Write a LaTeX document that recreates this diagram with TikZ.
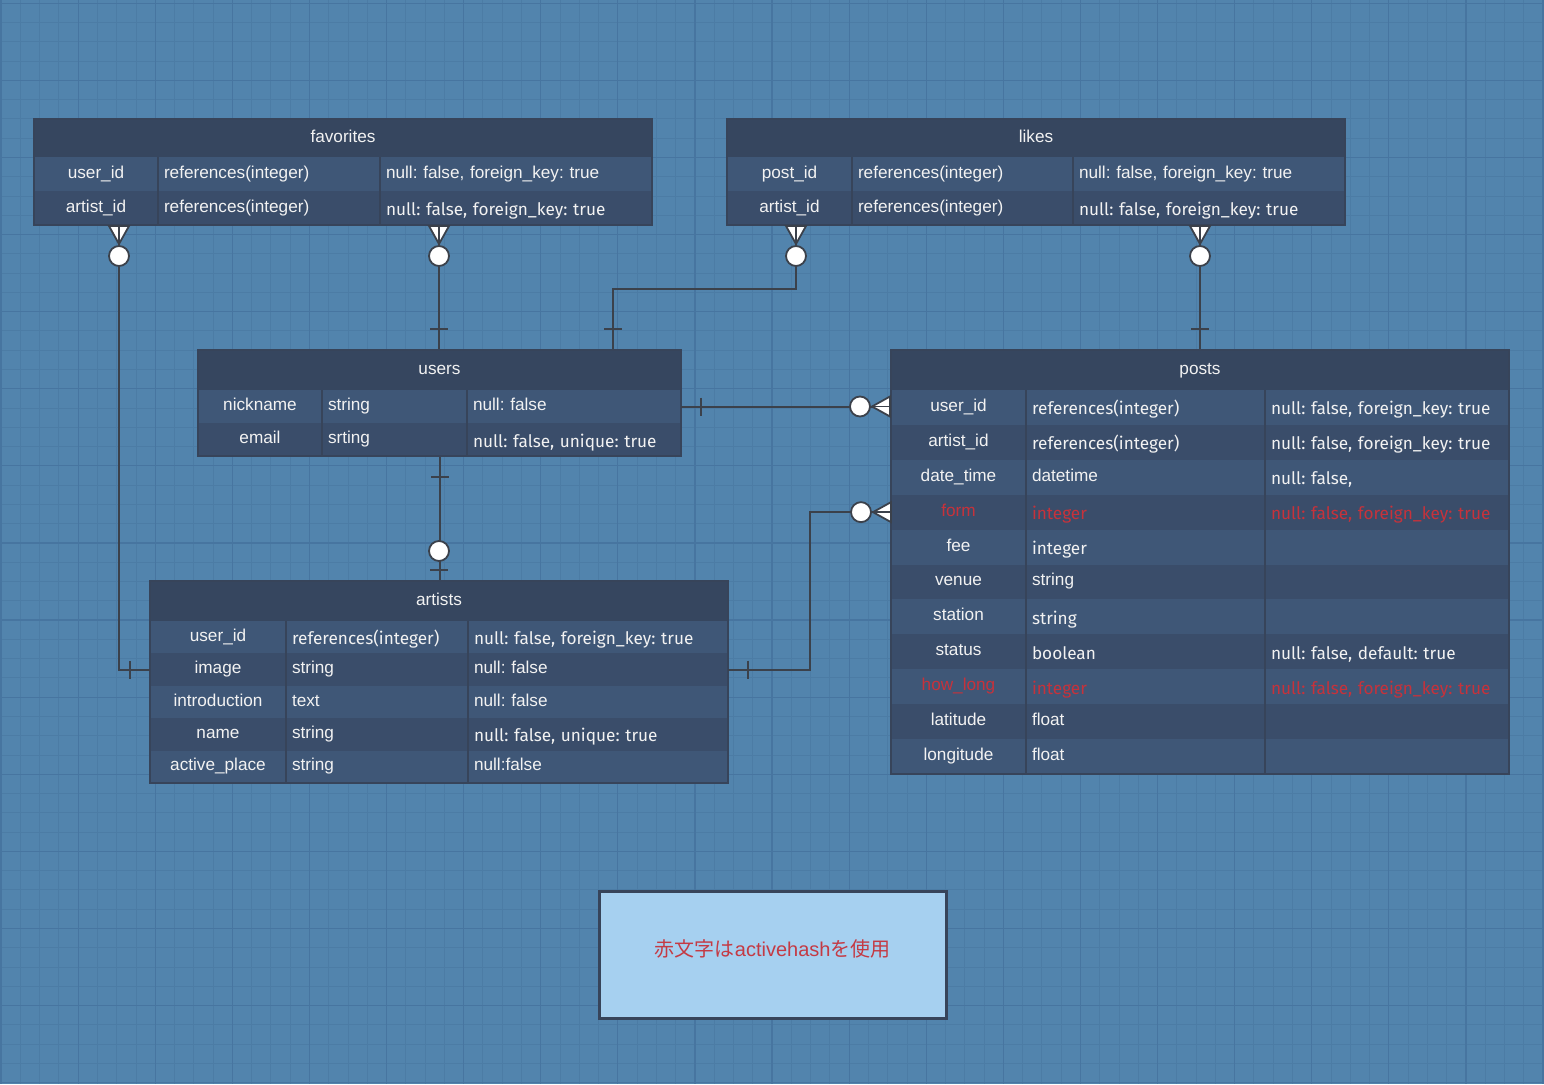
\documentclass[tikz,border=0pt]{standalone}
\usepackage{fontspec}
\setmainfont{Liberation Sans}
\newfontfamily\firafont{Fira Sans}
\newfontfamily\cjk{Noto Sans CJK JP}
\usetikzlibrary{fit}
\definecolor{bg}{HTML}{5284AD}
\definecolor{gridminor}{HTML}{4C7CA5}
\definecolor{gridmajor}{HTML}{4775A0}
\definecolor{headcol}{HTML}{36465F}
\definecolor{row1}{HTML}{3F5777}
\definecolor{row0}{HTML}{3A4D6A}
\definecolor{frm}{HTML}{37445A}
\definecolor{txt}{HTML}{F2F2F2}
\definecolor{redtxt}{HTML}{C6323B}
\definecolor{linecol}{HTML}{3B414B}
\definecolor{notefill}{HTML}{A6D0F0}
\definecolor{notetext}{HTML}{C43A44}

\frenchspacing
\newcommand{\fira}[1]{\raisebox{-3.5pt}{\fontsize{17.2}{20}\selectfont\firafont #1}}

\tikzset{
  minorline/.style={draw=gridminor, line width=0.8},
  majorline/.style={draw=gridmajor, line width=1.2},
  tblhead/.style={fill=headcol, text=txt, anchor=north west, inner sep=0, outer sep=0,
    text height=12, text depth=4},
  cellc/.style={text=txt, anchor=north west, inner sep=0, outer sep=0, minimum width=#1,
    text height=12, text depth=4},
  celll/.style={cellc=#1, text width={#1-12}, align=left, inner xsep=6},
  coldiv/.style={draw=frm, line width=2},
  frame/.style={draw=frm, line width=2, inner sep=0},
  rel/.style={draw=linecol, line width=2},
  markline/.style={draw=linecol, line width=1.8},
  zmany/.pic={
    \draw[markline, fill=white] (0,-10) -- (18,0) -- (0,10) -- cycle;
    \draw[markline] (0,0) -- (18,0);
    \draw[markline, fill=white] (30,0) circle (10);
  },
  onebar/.pic={\draw[markline] (20,-9) -- (20,9);},
  zone/.pic={
    \draw[markline] (10,-9) -- (10,9);
    \draw[markline, fill=white] (29,0) circle (10);
  },
  notebox/.style={fill=notefill, draw=frm, line width=2.5, text=notetext, anchor=north west,
    font=\fontsize{20}{24}\selectfont, text height=14, text depth=10}
}

\begin{document}
\begin{tikzpicture}[x=1pt, y=-1pt, font=\fontsize{17.2}{20}\selectfont]
  \useasboundingbox (0,0) rectangle (1544,1084);
  \fill[bg] (0,0) rectangle (1544,1084);
  % grid
  \foreach \i in {0,...,80} \draw[minorline] ({1+19.275*\i},0) -- ++(0,1084);
  \foreach \j in {0,...,56} \draw[minorline] (0,{3.2+19.275*\j}) -- ++(1544,0);
  \foreach \i in {0,...,20} \draw[majorline] ({1+77.1*\i},0) -- ++(0,1084);
  \foreach \j in {0,...,14} \draw[majorline] (0,{3.2+77.1*\j}) -- ++(1544,0);

  % favorites
  \node[tblhead, minimum width=618, minimum height=38] (fav-h) at (34,119) {favorites};
  \foreach \a/\b/\c [count=\i] in {user\_id/references(integer)/{null: false, foreign\_key: true},
      artist\_id/references(integer)/\fira{null: false, foreign\_key: true}} {
    \pgfmathtruncatemacro\odd{mod(\i,2)}
    \node[cellc=124, fill=row\odd, minimum height=34] (fav-\i-a) at (34,{157+34*(\i-1)}) {\a};
    \node[celll=222, fill=row\odd, minimum height=34] (fav-\i-b) at (fav-\i-a.north east) {\b};
    \node[celll=272, fill=row\odd, minimum height=34] (fav-\i-c) at (fav-\i-b.north east) {\c};
  }
  \draw[coldiv] (fav-1-b.north west) -- (fav-2-b.south west)
                (fav-1-c.north west) -- (fav-2-c.south west);
  \node[frame, fit=(fav-h)(fav-2-c)] (fav) {};

  % likes
  \node[tblhead, minimum width=618, minimum height=38] (likes-h) at (727,119) {likes};
  \foreach \a/\b/\c [count=\i] in {post\_id/references(integer)/{null: false, foreign\_key: true},
      artist\_id/references(integer)/\fira{null: false, foreign\_key: true}} {
    \pgfmathtruncatemacro\odd{mod(\i,2)}
    \node[cellc=125, fill=row\odd, minimum height=34] (likes-\i-a) at (727,{157+34*(\i-1)}) {\a};
    \node[celll=221, fill=row\odd, minimum height=34] (likes-\i-b) at (likes-\i-a.north east) {\b};
    \node[celll=272, fill=row\odd, minimum height=34] (likes-\i-c) at (likes-\i-b.north east) {\c};
  }
  \draw[coldiv] (likes-1-b.north west) -- (likes-2-b.south west)
                (likes-1-c.north west) -- (likes-2-c.south west);
  \node[frame, fit=(likes-h)(likes-2-c)] (likes) {};

  % users
  \node[tblhead, minimum width=483, minimum height=40] (users-h) at (198,350) {users};
  \foreach \a/\b/\c [count=\i] in {nickname/string/null: false,
      email/srting/\fira{null: false, unique: true}} {
    \pgfmathtruncatemacro\odd{mod(\i,2)}
    \node[cellc=124, fill=row\odd, minimum height=33] (users-\i-a) at (198,{390+33*(\i-1)}) {\a};
    \node[celll=145, fill=row\odd, minimum height=33] (users-\i-b) at (users-\i-a.north east) {\b};
    \node[celll=214, fill=row\odd, minimum height=33] (users-\i-c) at (users-\i-b.north east) {\c};
  }
  \draw[coldiv] (users-1-b.north west) -- (users-2-b.south west)
                (users-1-c.north west) -- (users-2-c.south west);
  \node[frame, fit=(users-h)(users-2-c)] (users) {};

  % posts
  \node[tblhead, minimum width=618, minimum height=40] (posts-h) at (891,350) {posts};
  \foreach \a/\b/\c/\k [count=\i] in {
      user\_id/\fira{references(integer)}/\fira{null: false, foreign\_key: true}/txt,
      artist\_id/\fira{references(integer)}/\fira{null: false, foreign\_key: true}/txt,
      date\_time/datetime/\fira{null: false,}/txt,
      form/\fira{integer}/\fira{null: false, foreign\_key: true}/redtxt,
      fee/\fira{integer}//txt,
      venue/string//txt,
      station/\fira{string}//txt,
      status/\fira{boolean}/\fira{null: false, default: true}/txt,
      how\_long/\fira{integer}/\fira{null: false, foreign\_key: true}/redtxt,
      latitude/float//txt,
      longitude/float//txt} {
    \pgfmathtruncatemacro\odd{mod(\i,2)}
    \node[cellc=135, fill=row\odd, text=\k, minimum height=34.9] (posts-\i-a) at (891,{390+34.9*(\i-1)}) {\a};
    \node[celll=239, fill=row\odd, text=\k, minimum height=34.9] (posts-\i-b) at (posts-\i-a.north east) {\b};
    \node[celll=244, fill=row\odd, text=\k, minimum height=34.9] (posts-\i-c) at (posts-\i-b.north east) {\c};
  }
  \draw[coldiv] (posts-1-b.north west) -- (posts-11-b.south west)
                (posts-1-c.north west) -- (posts-11-c.south west);
  \node[frame, fit=(posts-h)(posts-11-c)] (posts) {};

  % artists
  \node[tblhead, minimum width=578, minimum height=40] (artists-h) at (150,581) {artists};
  \foreach \a/\b/\c [count=\i] in {
      user\_id/\fira{references(integer)}/\fira{null: false, foreign\_key: true},
      image/string/null: false,
      introduction/text/null: false,
      name/string/\fira{null: false, unique: true},
      active\_place/string/null:false} {
    \pgfmathtruncatemacro\odd{mod(\i,2)}
    \node[cellc=136, fill=row\odd, minimum height=32.4] (artists-\i-a) at (150,{621+32.4*(\i-1)}) {\a};
    \node[celll=182, fill=row\odd, minimum height=32.4] (artists-\i-b) at (artists-\i-a.north east) {\b};
    \node[celll=260, fill=row\odd, minimum height=32.4] (artists-\i-c) at (artists-\i-b.north east) {\c};
  }
  \draw[coldiv] (artists-1-b.north west) -- (artists-5-b.south west)
                (artists-1-c.north west) -- (artists-5-c.south west);
  \node[frame, fit=(artists-h)(artists-5-c)] (artists) {};

  % relations
  \draw[rel] ([xshift=86]fav.south west) |- (artists-2-a.west);
  \draw[rel] ([xshift=406]fav.south west) -- ([xshift=242]users.north west);
  \draw[rel] ([xshift=70]likes.south west) -- ++(0,63) -| ([xshift=416]users.north west);
  \draw[rel] ([xshift=474]likes.south west) -- (posts.north);
  \draw[rel] (users-1-c.east) -- (users-1-c.east -| posts.west);
  \draw[rel] (users.south) -- (users.south |- artists.north);
  \draw[rel] (artists-2-c.east) -- ++(82,0) |- (posts-4-a.west);

  \pic[rotate=-90] at ([xshift=86]fav.south west) {zmany};
  \pic[rotate=-90] at ([xshift=406]fav.south west) {zmany};
  \pic[rotate=-90] at ([xshift=70]likes.south west) {zmany};
  \pic[rotate=-90] at ([xshift=474]likes.south west) {zmany};
  \pic[rotate=180] at (users-1-c.east -| posts.west) {zmany};
  \pic[rotate=180] at (posts-4-a.west) {zmany};
  \pic[rotate=180] at (artists-2-a.west) {onebar};
  \pic[rotate=90] at ([xshift=242]users.north west) {onebar};
  \pic[rotate=90] at ([xshift=416]users.north west) {onebar};
  \pic[rotate=90] at (posts.north) {onebar};
  \pic at (users-1-c.east) {onebar};
  \pic[rotate=-90] at (users.south) {onebar};
  \pic[rotate=90] at (artists.north) {zone};
  \pic at (artists-2-c.east) {onebar};

  % note
  \node[notebox, minimum width=347, minimum height=127] (legend) at (598,890)
    {{\cjk 赤文字は}activehash{\cjk を使用}};
\end{tikzpicture}
\end{document}
